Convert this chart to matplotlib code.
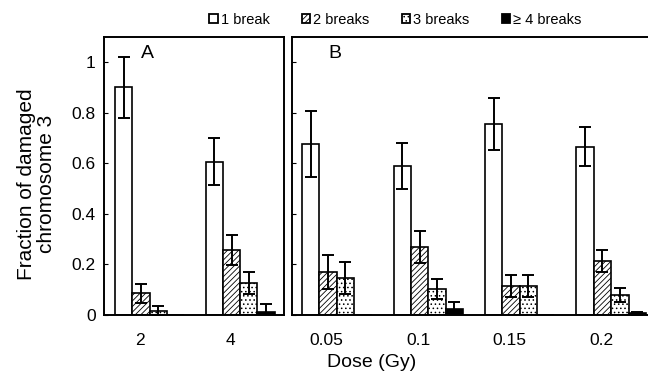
import numpy as np
import matplotlib
matplotlib.use("Agg")
import matplotlib.pyplot as plt
from matplotlib.patches import Patch

plt.rcParams['font.family'] = ['Liberation Sans', 'DejaVu Sans']
plt.rcParams['hatch.linewidth'] = 0.6

# categories
series = ['1 break', '2 breaks', '3 breaks', '\u2265 4 breaks']
dose_a = ['2', '4']
dose_b = ['0.05', '0.1', '0.15', '0.2']

# panel A values (rows = dose, cols = number of breaks)
vals_a = [[0.90, 0.086, 0.017, 0.0],
          [0.607, 0.256, 0.128, 0.013]]
err_a = [[0.12, 0.038, 0.018, 0.0],
         [0.093, 0.060, 0.043, 0.030]]

# panel B values
vals_b = [[0.675, 0.170, 0.146, 0.0],
          [0.589, 0.269, 0.103, 0.023],
          [0.756, 0.115, 0.115, 0.0],
          [0.666, 0.215, 0.080, 0.006]]
err_b = [[0.130, 0.067, 0.062, 0.0],
         [0.090, 0.063, 0.040, 0.030],
         [0.103, 0.042, 0.042, 0.0],
         [0.078, 0.044, 0.028, 0.006]]

faces = ['white', 'white', 'white', 'black']
hatches = [None, '//////', '....', None]
w = 0.19


def draw_panel(ax, labels, vals, errs, xlim, tag, tag_x):
    vals = np.array(vals)
    errs = np.array(errs)
    x = np.arange(len(labels))
    for j in range(4):
        pos = x + (j - 1.5) * w
        e = np.where(errs[:, j] > 0, errs[:, j], np.nan)
        ax.bar(pos, vals[:, j], width=w, color=faces[j], edgecolor='black',
               linewidth=1.2, hatch=hatches[j], zorder=2)
        ax.errorbar(pos, vals[:, j], yerr=e, fmt='none', ecolor='black',
                    elinewidth=1.4, capsize=4, capthick=1.4, zorder=3)
    ax.set_xlim(*xlim)
    ax.set_ylim(0, 1.1)
    ax.set_xticks(x - 0.11)
    ax.set_xticklabels(labels)
    ax.tick_params(axis='x', length=0, pad=13, labelsize=12.5)
    ax.tick_params(axis='y', direction='in', length=3, labelsize=12.5, pad=6)
    ax.set_yticks([0, 0.2, 0.4, 0.6, 0.8, 1.0])
    for s in ax.spines.values():
        s.set_linewidth(1.4)
    ax.text(tag_x, 1.035, tag, fontsize=14, ha='center', va='center')


fig = plt.figure(figsize=(6.48, 3.82), dpi=100)
ax_a = fig.add_axes([0.1605, 0.1754, 0.2785, 0.728])
ax_b = fig.add_axes([0.4506, 0.1754, 0.5617, 0.728])

draw_panel(ax_a, dose_a, vals_a, err_a, (-0.505, 1.49), 'A', -0.02)
draw_panel(ax_b, dose_b, vals_b, err_b, (-0.49, 3.49), 'B', -0.02)

ax_a.set_yticklabels(['0', '0.2', '0.4', '0.6', '0.8', '1'])
ax_b.set_yticklabels([])
ax_a.set_ylabel('Fraction of damaged\nchromosome 3', fontsize=15, linespacing=1.1)
ax_a.yaxis.set_label_coords(-0.265, 0.47)

fig.text(0.574, 0.052, 'Dose (Gy)', fontsize=14, ha='center', va='center')

handles = [Patch(facecolor=faces[j], edgecolor='black', hatch=hatches[j], linewidth=1.3)
           for j in range(4)]
fig.legend(handles, series, loc='center', bbox_to_anchor=(0.61, 0.948), ncol=4,
           frameon=False, fontsize=10.5, handlelength=0.6, handleheight=0.6,
           handletextpad=0.2, columnspacing=2.2)

fig.savefig('out.png', dpi=100)
